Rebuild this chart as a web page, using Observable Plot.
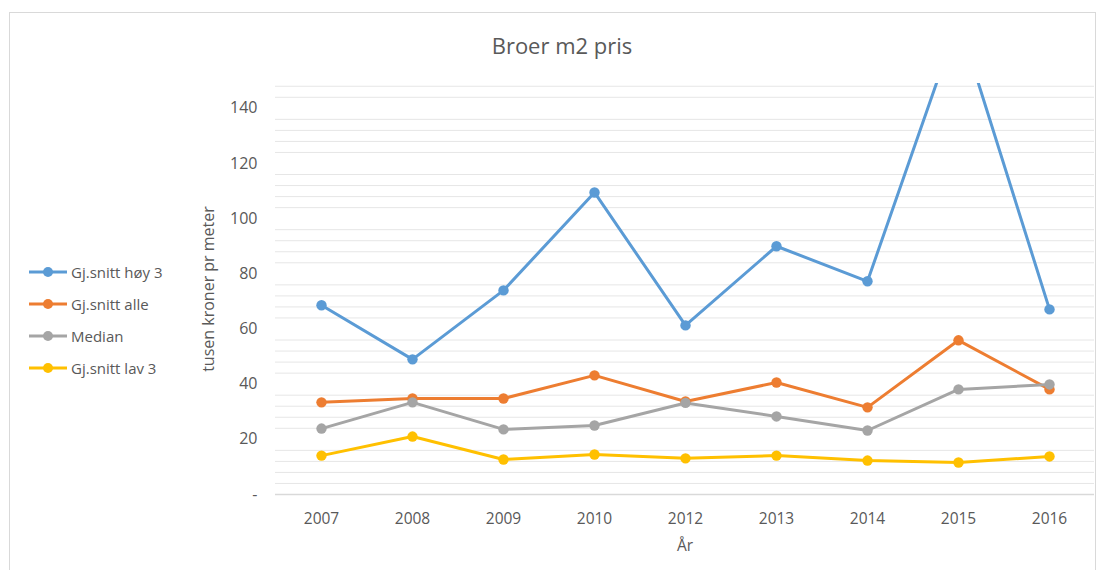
<!DOCTYPE html>
<html>
<head>
<meta charset="utf-8">
<script src="https://cdn.jsdelivr.net/npm/d3@7"></script>
<script src="https://cdn.jsdelivr.net/npm/@observablehq/plot@0.6"></script>
<style>
  html, body { margin: 0; padding: 0; background: #fff; }
  #wrap { position: relative; width: 1098px; height: 570px; overflow: hidden; font-family: "Open Sans", "Noto Sans", sans-serif; color: #595959; }
  #frame { position: absolute; left: 9px; top: 12px; width: 1087px; height: 580px; border: 1.5px solid #d9d9d9; box-sizing: border-box; }
  #title { position: absolute; left: 0; top: 30px; width: 1124px; text-align: center; font-size: 22px; color: #595959; }
  #chart { position: absolute; left: 0; top: 0; }
  #legend { position: absolute; left: 29px; top: 256px; font-size: 15px; }
  .item { display: flex; align-items: center; height: 32px; }
  .item svg { margin-right: 4px; }
</style>
</head>
<body>
<div id="wrap">
  <div id="frame"></div>
  <div id="chart"></div>
  <div id="title">Broer m2 pris</div>
  <div id="legend"></div>
</div>
<script>
const years = ["2007", "2008", "2009", "2010", "2012", "2013", "2014", "2015", "2016"];
const seriesNames = ["Gj.snitt høy 3", "Gj.snitt alle", "Median", "Gj.snitt lav 3"];
const seriesColors = ["#5B9BD5", "#ED7D31", "#A5A5A5", "#FFC000"];
const hoy3   = [68.6, 49.0, 74.0, 109.5, 61.3, 90.0, 77.3, 172.0, 67.1];
const alle   = [33.4, 34.8, 34.8, 43.2, 33.7, 40.6, 31.6, 55.9, 38.1];
const median = [23.9, 33.4, 23.6, 25.0, 33.2, 28.3, 23.2, 38.1, 39.9];
const lav3   = [14.1, 21.0, 12.7, 14.5, 13.1, 14.1, 12.3, 11.6, 13.8];
const yTicks = [0, 20, 40, 60, 80, 100, 120, 140];
const minorGrid = d3.range(4, 149, 4).filter(v => v % 20 !== 0);

const seriesValues = [hoy3, alle, median, lav3];
const data = [];
seriesNames.forEach((name, i) => {
  years.forEach((yr, j) => data.push({series: name, year: yr, value: seriesValues[i][j]}));
});

const chart = Plot.plot({
  width: 1098,
  height: 570,
  marginLeft: 275,
  marginRight: 4,
  marginTop: 83,
  marginBottom: 76,
  style: {fontFamily: "'Open Sans', 'Noto Sans', sans-serif", fontSize: "15px", color: "#595959", background: "transparent"},
  x: {domain: years, type: "point", padding: 0.5},
  y: {domain: [0, 149]},
  color: {domain: seriesNames, range: seriesColors},
  marks: [
    Plot.ruleY(minorGrid, {stroke: "#e6e6e6", strokeWidth: 1}),
    Plot.ruleY([0], {stroke: "#d9d9d9", strokeWidth: 1.5}),
    Plot.axisX({tickSize: 0, tickPadding: 18, label: "År", labelAnchor: "center", labelOffset: 56, fontSize: 15.5}),
    Plot.axisY({ticks: yTicks, tickFormat: d => d === 0 ? "-" : d, tickSize: 0, tickPadding: 18,
      label: "tusen kroner pr meter", labelAnchor: "center", labelArrow: "none", labelOffset: 73, fontSize: 16}),
    Plot.line(data, {x: "year", y: "value", z: "series", stroke: "series", strokeWidth: 3, clip: true}),
    Plot.dot(data, {x: "year", y: "value", fill: "series", r: 5.2, clip: true})
  ]
});
chart.querySelectorAll("text").forEach(t => t.setAttribute("fill", "#595959"));
document.getElementById("chart").appendChild(chart);

const legend = document.getElementById("legend");
seriesNames.forEach((name, i) => {
  const div = document.createElement("div");
  div.className = "item";
  div.innerHTML = `<svg width="38" height="12"><line x1="0" y1="6" x2="38" y2="6" stroke="${seriesColors[i]}" stroke-width="3"/><circle cx="19" cy="6" r="5" fill="${seriesColors[i]}"/></svg><span>${name}</span>`;
  legend.appendChild(div);
});
</script>
</body>
</html>
